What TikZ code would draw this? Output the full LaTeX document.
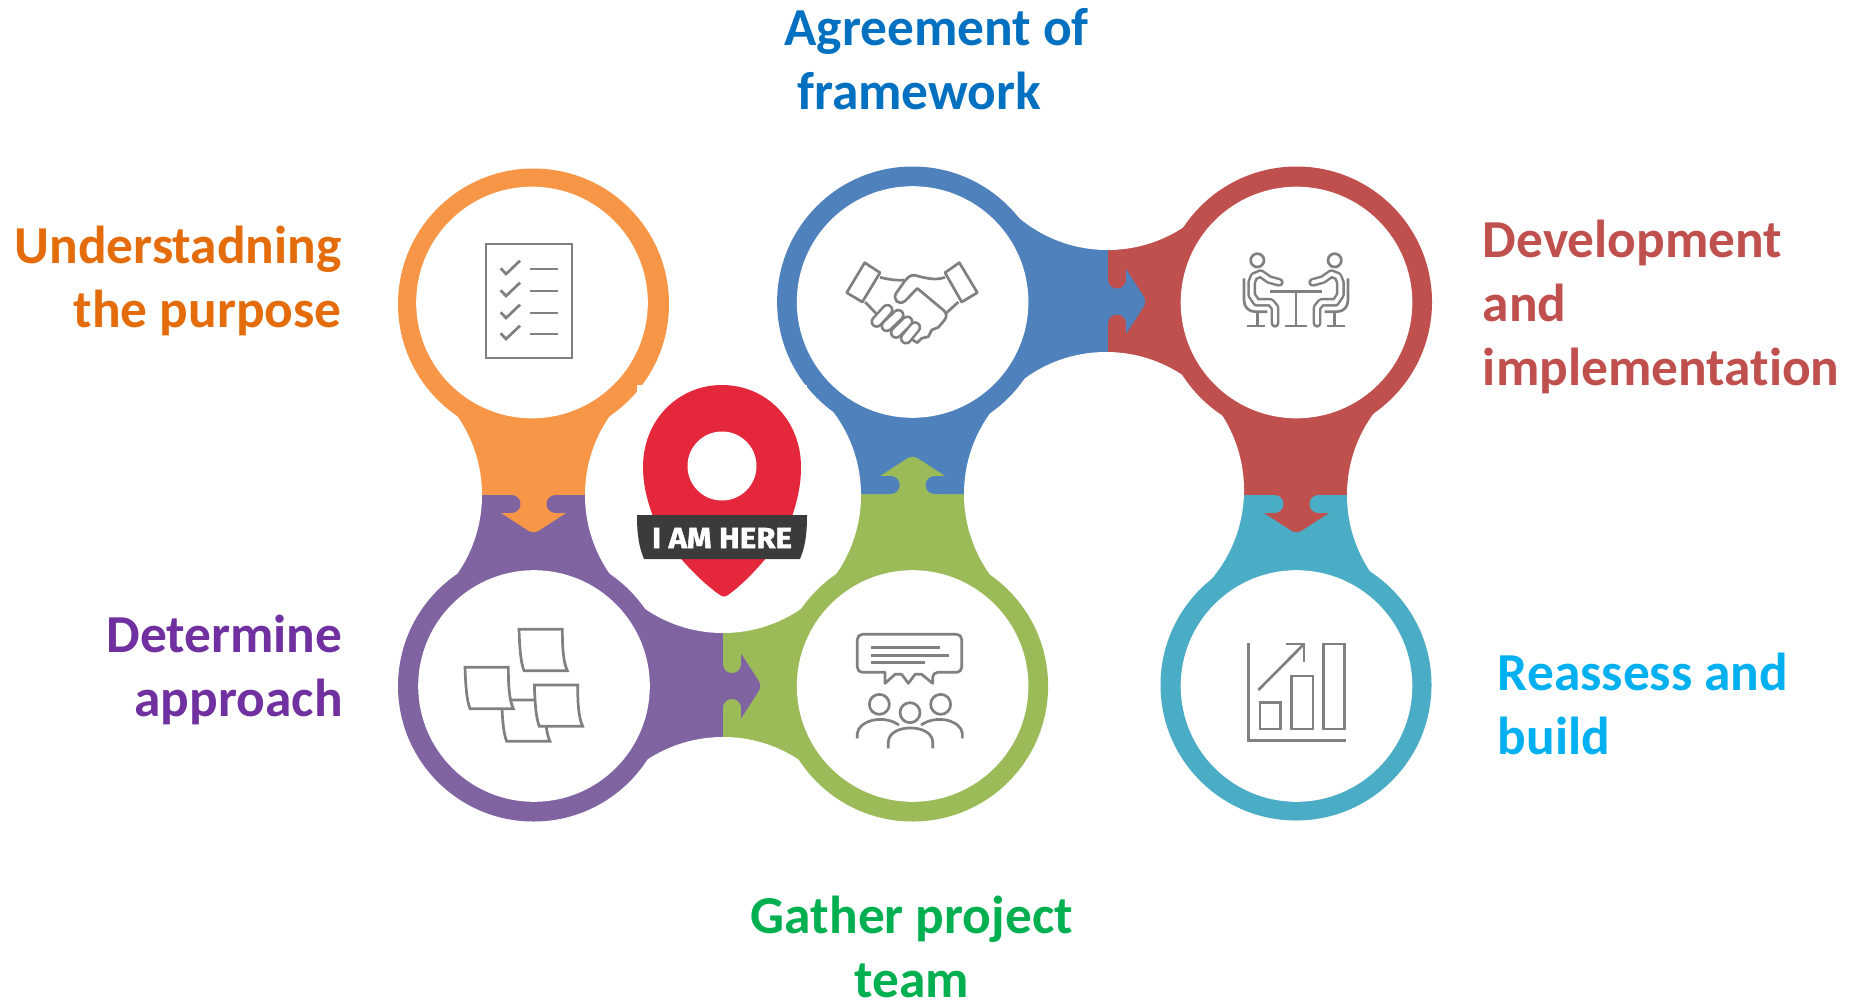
\documentclass[tikz,border=0pt]{standalone}
\usepackage{fontspec}
\usetikzlibrary{calc}
\setmainfont[RawFeature={-liga}]{Carlito}
\newfontfamily\pinfont[FakeStretch=1.07,BoldFeatures={FakeBold=1.6}]{Fira Sans}
\definecolor{cOrange}{HTML}{F79646}
\definecolor{cPurple}{HTML}{8064A2}
\definecolor{cGreen}{HTML}{9BBB59}
\definecolor{cBlue}{HTML}{4F81BD}
\definecolor{cRed}{HTML}{C0504D}
\definecolor{cTeal}{HTML}{4BACC6}
\definecolor{tOrange}{HTML}{E46C0A}
\definecolor{tPurple}{HTML}{7030A0}
\definecolor{tGreen}{HTML}{00B050}
\definecolor{tBlue}{HTML}{0070C0}
\definecolor{tRed}{HTML}{C0504D}
\definecolor{tTeal}{HTML}{00B0F0}
\definecolor{iconGray}{HTML}{808080}
\definecolor{pinRed}{HTML}{E4273A}
\definecolor{pinDark}{HTML}{3B3B3B}
\tikzset{
  label text/.style={font=\fontsize{26.7}{32}\selectfont\bfseries,inner sep=0pt},
  iconline/.style={draw=iconGray,line width=1.35pt},
  zoomed/.style={x=0.16667pt,y=-0.16667pt},
}
% half of a neck: centre A, white circles P,Q, junction ends J1,J2, colour
\newcommand{\halfneck}[6]{\fill[#6] (#1) -- ($(#1)!68pt!(#2)$) -- (#4) -- (#5) -- ($(#1)!68pt!(#3)$) -- cycle;}
% puzzle arrow: x,y of junction, direction angle, colour of arrow, colour of tabs
\newcommand{\tabarrow}[5]{%
  \begin{scope}[shift={(#1,#2)},rotate=#3]
    \fill[#4] (-1,-24) rectangle (18,24);
    \fill[#4] (18,-32.5) [rounded corners=3pt] -- (39,0) [sharp corners] -- (18,32.5) -- cycle;
    \fill[#5] (0,-62) rectangle (18,-22);
    \fill[#5] (9,-22) circle (9);
    \fill[#5] (0,62) rectangle (18,22);
    \fill[#5] (9,22) circle (9);
  \end{scope}}
\newcommand{\ring}[3]{\fill[#3] (#1,#2) circle (135.5);}
\newcommand{\hole}[2]{\fill[white] (#1,#2) circle (115.8);}
\newcommand{\notepaper}[2]{%
  \filldraw[iconline,fill=white,shift={(#1,#2)}] (0,0) -- (130,0) .. controls (130,58) and (133,98) .. (145,124) -- (15,124) .. controls (5,98) and (2,58) .. (0,0) -- cycle;}
\begin{document}
\begin{tikzpicture}[x=0.5pt,y=-0.5pt]
\useasboundingbox (0,0) rectangle (1850,1001);
\fill[white] (0,0) rectangle (1850,1001);
% centres
\coordinate (orange) at (533.5,304);
\coordinate (purple) at (533.5,686);
\coordinate (green) at (912.6,686);
\coordinate (blue) at (912.6,302);
\coordinate (red) at (1296.5,302);
\coordinate (teal) at (1296.5,685.5);
% white concave circles
\coordinate (wLeft) at (344,495);
\coordinate (wMid) at (723,495);
\coordinate (wBot) at (723,875);
\coordinate (wTop) at (1107.5,112);
\coordinate (wLow) at (1106,490);
\coordinate (wLowB) at (1102,494);
\coordinate (wRight) at (1485,495);
% necks
\halfneck{orange}{wLeft}{wMid}{478,495}{589,495}{cOrange}
\halfneck{purple}{wLeft}{wMid}{478,495}{589,495}{cPurple}
\halfneck{purple}{wMid}{wBot}{723,628}{723,741}{cPurple}
\halfneck{green}{wMid}{wBot}{723,628}{723,741}{cGreen}
\halfneck{green}{wMid}{wLowB}{856,494}{970,494}{cGreen}
\halfneck{blue}{wMid}{wLowB}{856,494}{970,494}{cBlue}
\halfneck{blue}{wTop}{wLow}{1108,246}{1108,356}{cBlue}
\halfneck{red}{wTop}{wLow}{1108,246}{1108,356}{cRed}
\halfneck{red}{wLow}{wRight}{1240,495}{1351,495}{cRed}
\halfneck{teal}{wLow}{wRight}{1240,495}{1351,495}{cTeal}
% puzzle arrows
\tabarrow{533.5}{495}{-90}{cOrange}{cPurple}
\tabarrow{723}{686}{0}{cPurple}{cGreen}
\tabarrow{912.6}{494}{90}{cGreen}{cBlue}
\tabarrow{1108}{301.5}{0}{cBlue}{cRed}
\tabarrow{1296.5}{495}{-90}{cRed}{cTeal}
% concave white
\foreach \c in {wLeft,wMid,wBot,wTop,wLow,wLowB,wRight} \fill[white] (\c) circle (138);
% rings
\ring{533.5}{304}{cOrange}
\ring{533.5}{686}{cPurple}
\ring{912.6}{686}{cGreen}
\ring{912.6}{302}{cBlue}
\ring{1296.5}{302}{cRed}
\ring{1296}{685}{cTeal}
\hole{532}{302.5}
\hole{534}{686}
\hole{912.6}{686}
\hole{912.6}{302}
\hole{1296.5}{302.5}
\hole{1296.5}{686}
% white notches of the pin picture
\fill[white] (637,385) rectangle (652,397);
\fill[white] (796,385) rectangle (807,397);
% pin
\fill[pinRed] (722,385) .. controls (678,385) and (643,420) .. (643,467)
  .. controls (643,490) and (650,508) .. (655,522)
  .. controls (663,540) and (695,578) .. (720,595)
  .. controls (723,597) and (725,597) .. (728,595)
  .. controls (752,578) and (783,540) .. (790,522)
  .. controls (795,508) and (801,490) .. (801,467)
  .. controls (801,420) and (766,385) .. (722,385) -- cycle;
\fill[white] (722,466) circle (34.5);
\fill[pinDark] (637,515) -- (807,515) .. controls (807,535) and (805,547) .. (800,559) -- (644,559) .. controls (639,547) and (637,535) .. (637,515) -- cycle;
\node[text=white,inner sep=0pt,font=\pinfont\bfseries\fontsize{14.6}{16}\selectfont] (pinlabel) at (722,538) {I AM HERE};
% checklist icon
\draw[iconline] (486,244) rectangle (572,358);
\foreach \d in {0,22,44,65} {
  \draw[iconline] (500.7,268.3+\d) -- (506,274+\d) -- (520,260.7+\d);
  \draw[iconline] (530,269+\d) -- (558,269+\d);
}
% handshake icon
\begin{scope}[shift={(830,240)},zoomed]
  \draw[iconline,line join=round] (104,68) -- (150,98) -- (97,186) -- (50,158) -- cycle;
  \draw[iconline,line join=round] (388,68) -- (345,98) -- (395,186) -- (442,158) -- cycle;
  \draw[iconline] (150,112) .. controls (175,118) and (200,122) .. (222,120);
  \draw[iconline,line join=round] (345,112) .. controls (315,122) and (290,115) .. (255,106) .. controls (240,104) and (235,112) .. (225,122) -- (198,160) .. controls (188,178) and (205,198) .. (225,183) -- (262,145) -- (342,212) .. controls (352,222) and (350,232) .. (342,242) -- (325,262) -- (305,270) -- (295,290) -- (275,295) -- (262,308) -- (248,300);
  \draw[iconline] (385,186) -- (348,220);
  \draw[iconline] (105,186) -- (140,222);
  \foreach \ax/\ay/\bx/\by in {140/245/172/210,170/258/205/225,198/278/232/245,228/295/255/262} {
    \draw[iconGray,line width=6.2pt,line cap=round] (\ax,\ay) -- (\bx,\by);
    \draw[white,line width=3.6pt,line cap=round] (\ax,\ay) -- (\bx,\by);
  }
\end{scope}
% meeting icon
\begin{scope}[shift={(1230,245)},zoomed]
  \foreach \m/\o in {1/0,-1/396} {
  \begin{scope}[xshift=\o*0.16667pt,xscale=\m]
    \draw[iconline] (82,46) circle (20);
    \draw[iconGray,line width=4.4pt,line join=round,line cap=round] (148,112) -- (118,104) -- (92,86) -- (72,94) -- (65,112) -- (65,150) -- (80,172) -- (122,172) -- (135,188) -- (135,235);
    \draw[white,line width=1.9pt,line join=round,line cap=round] (148,112) -- (118,104) -- (92,86) -- (72,94) -- (65,112) -- (65,150) -- (80,172) -- (122,172) -- (135,188) -- (135,235);
    \draw[iconline] (42,100) -- (42,165) .. controls (42,185) and (55,200) .. (75,200) -- (112,200);
    \draw[iconline] (82,200) -- (82,243);
    \draw[iconline] (50,243) -- (105,243);
  \end{scope}}
  \draw[iconline] (120,140) -- (276,140);
  \draw[iconline] (198,140) -- (198,243);
  \draw[iconline] (165,243) -- (232,243);
\end{scope}
% sticky notes icon
\begin{scope}[shift={(450,620)},zoomed]
  \notepaper{155}{240}
  \notepaper{207}{28}
  \notepaper{45}{142}
  \notepaper{253}{195}
\end{scope}
% team icon
\begin{scope}[shift={(850,625)},zoomed]
  \draw[iconline,line join=round,rounded corners=2.5pt] (22,28) -- (335,28) -- (335,142) -- (248,142) [sharp corners] -- (248,175) -- (215,148) -- (195,148) -- (175,175) -- (155,148) -- (135,148) -- (105,175) -- (105,142) [rounded corners=2.5pt] -- (22,142) -- cycle;
  \draw[iconline] (62,67) -- (270,67);
  \draw[iconline] (62,91) -- (297,91);
  \draw[iconline] (62,113) -- (225,113);
  \draw[iconline] (88,238) circle (30);
  \draw[iconline] (272,238) circle (30);
  \draw[iconline] (180,263) circle (30);
  \draw[iconline] (22,340) -- (22,325) .. controls (25,290) and (95,265) .. (147,300);
  \draw[iconline] (337,340) -- (337,325) .. controls (334,290) and (265,265) .. (213,300);
  \draw[iconline] (115,370) -- (115,350) .. controls (118,295) and (245,295) .. (248,350) -- (248,370);
\end{scope}
% chart icon
\begin{scope}[shift={(1150,470)},zoomed]
  \draw[iconline] (295,520) -- (295,812) -- (587,812);
  \draw[iconline] (330,697) rectangle (392,777);
  \draw[iconline] (425,618) rectangle (489,777);
  \draw[iconline] (520,522) rectangle (584,777);
  \draw[iconline] (325,660) -- (462,522);
  \draw[iconline] (408,522) -- (462,522) -- (462,576);
\end{scope}
% labels
\node[label text,text=tBlue,align=left,anchor=north west] (agreement) at (784,8) {Agreement of\\\hspace*{6.5pt}framework};
\node[label text,text=tOrange,align=right,anchor=north east] (understanding) at (342,226) {Understadning\\the purpose};
\node[label text,text=tRed,align=left,anchor=north west] (development) at (1482.5,220) {Development\\and\\implementation};
\node[label text,text=tPurple,align=right,anchor=north east] (determine) at (343,615) {Determine\\approach};
\node[label text,text=tTeal,align=left,anchor=north west] (reassess) at (1497.5,653) {Reassess and\\build};
\node[label text,text=tGreen,align=center,anchor=north] (gather) at (912,896) {Gather project\\team};
\end{tikzpicture}
\end{document}
